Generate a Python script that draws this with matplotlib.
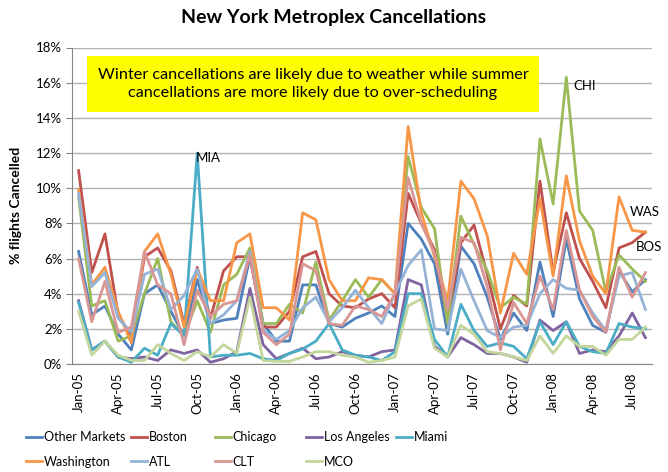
import numpy as np
import matplotlib
matplotlib.use("Agg")
import matplotlib.pyplot as plt
from matplotlib.patches import Rectangle
from matplotlib.ticker import FuncFormatter

plt.rcParams['font.family'] = ['Lato', 'DejaVu Sans']

# --- data (% of flights cancelled, Jan-05 .. Aug-08) ---
months = ['Jan-05', 'Feb-05', 'Mar-05', 'Apr-05', 'May-05', 'Jun-05', 'Jul-05', 'Aug-05', 'Sep-05', 'Oct-05', 'Nov-05', 'Dec-05',
          'Jan-06', 'Feb-06', 'Mar-06', 'Apr-06', 'May-06', 'Jun-06', 'Jul-06', 'Aug-06', 'Sep-06', 'Oct-06', 'Nov-06', 'Dec-06',
          'Jan-07', 'Feb-07', 'Mar-07', 'Apr-07', 'May-07', 'Jun-07', 'Jul-07', 'Aug-07', 'Sep-07', 'Oct-07', 'Nov-07', 'Dec-07',
          'Jan-08', 'Feb-08', 'Mar-08', 'Apr-08', 'May-08', 'Jun-08', 'Jul-08', 'Aug-08']

other_markets = [6.4, 2.8, 3.3, 1.7, 0.8, 4.0, 4.5, 3.0, 1.6, 4.8, 2.3, 2.5,
                 2.6, 6.1, 2.3, 1.3, 1.3, 4.5, 4.5, 2.3, 2.1, 2.6, 2.9, 3.3,
                 2.7, 8.0, 7.1, 5.7, 1.7, 6.7, 5.7, 3.8, 1.4, 2.9, 1.9, 5.8,
                 2.7, 7.1, 3.7, 2.2, 1.8, 5.3, 4.1, 4.8]
boston = [11.0, 5.2, 7.4, 2.8, 1.6, 6.1, 6.6, 5.3, 2.3, 5.5, 2.6, 5.3,
          6.1, 6.1, 2.1, 2.1, 3.0, 6.1, 6.4, 4.0, 3.3, 3.2, 3.7, 4.0,
          3.2, 9.7, 8.0, 6.5, 2.5, 6.9, 7.9, 5.1, 2.0, 3.9, 3.3, 10.4,
          5.2, 8.6, 6.0, 4.7, 3.2, 6.6, 6.9, 7.5]
chicago = [9.5, 3.3, 3.6, 1.3, 1.6, 4.0, 6.0, 2.4, 1.6, 3.6, 1.8, 4.5,
           5.1, 6.6, 2.3, 2.3, 3.4, 2.9, 5.8, 2.5, 3.6, 4.8, 3.8, 4.8,
           4.0, 11.8, 8.9, 7.7, 2.3, 8.4, 6.8, 5.3, 3.2, 3.8, 3.4, 12.8,
           9.1, 16.3, 8.7, 7.6, 4.1, 6.2, 5.4, 4.7]
los_angeles = [3.6, 0.8, 1.3, 0.4, 0.3, 0.4, 0.2, 0.8, 0.6, 0.8, 0.1, 0.3,
               0.7, 4.3, 1.1, 0.3, 0.6, 0.9, 0.3, 0.4, 0.7, 0.5, 0.4, 0.7,
               0.8, 4.8, 4.5, 1.0, 0.4, 1.5, 1.1, 0.6, 0.6, 0.4, 0.1, 2.5,
               1.9, 2.4, 0.6, 0.8, 0.7, 1.6, 2.9, 1.5]
miami = [3.5, 0.8, 1.3, 0.4, 0.1, 0.9, 0.5, 2.3, 1.6, 12.0, 0.4, 0.5,
         0.5, 0.6, 0.3, 0.2, 0.6, 0.85, 1.3, 2.3, 0.8, 0.5, 0.4, 0.2,
         0.7, 4.0, 4.0, 1.4, 0.4, 3.4, 1.9, 1.0, 1.2, 1.0, 0.3, 2.4,
         1.1, 2.4, 1.0, 0.7, 0.6, 2.3, 2.1, 2.0]
washington = [9.9, 4.5, 5.5, 3.0, 1.2, 6.4, 7.4, 5.1, 2.1, 5.4, 3.6, 3.6,
              6.9, 7.4, 3.2, 3.2, 2.5, 8.6, 8.2, 4.8, 3.6, 3.6, 4.9, 4.8,
              4.0, 13.5, 8.6, 6.1, 3.6, 10.4, 9.4, 7.3, 2.9, 6.3, 5.1, 9.4,
              5.0, 10.7, 7.0, 5.0, 4.0, 9.5, 7.6, 7.5]
atl = [9.7, 4.4, 5.2, 2.6, 1.8, 5.1, 5.4, 3.1, 3.9, 5.4, 2.3, 2.8,
       3.6, 6.4, 1.9, 1.4, 1.9, 3.2, 3.8, 2.4, 3.2, 4.2, 3.2, 2.3,
       4.0, 5.6, 6.5, 2.0, 1.9, 5.4, 3.6, 1.9, 1.5, 2.1, 2.2, 4.0,
       4.8, 4.3, 4.2, 2.9, 1.9, 5.0, 5.2, 3.1]
clt = [6.0, 2.4, 4.7, 1.8, 2.1, 6.4, 4.5, 4.0, 1.1, 4.2, 2.7, 3.4,
       3.6, 6.2, 1.8, 1.1, 1.7, 5.7, 5.3, 2.3, 2.2, 3.3, 3.1, 2.7,
       4.0, 10.6, 8.0, 6.3, 3.1, 7.2, 6.9, 4.4, 0.8, 3.5, 2.3, 5.0,
       3.1, 7.6, 4.2, 2.7, 1.8, 5.5, 3.8, 5.2]
mco = [3.0, 0.5, 1.3, 0.5, 0.2, 0.2, 1.1, 0.6, 0.2, 0.7, 0.4, 1.1,
       0.6, 3.8, 0.2, 0.15, 0.15, 0.4, 0.7, 0.7, 0.5, 0.4, 0.1, 0.2,
       0.4, 3.3, 3.7, 0.9, 0.4, 2.2, 1.7, 0.7, 0.6, 0.4, 0.2, 1.6,
       0.6, 1.6, 1.0, 1.0, 0.5, 1.4, 1.4, 2.1]

series = [
    ('Other Markets', other_markets, '#4F81BD'),
    ('Boston', boston, '#C0504D'),
    ('Chicago', chicago, '#9BBB59'),
    ('Los Angeles', los_angeles, '#8064A2'),
    ('Miami', miami, '#4BACC6'),
    ('Washington', washington, '#F79646'),
    ('ATL', atl, '#95B3D7'),
    ('CLT', clt, '#D99694'),
    ('MCO', mco, '#C3D69B'),
]

fig = plt.figure(figsize=(6.68, 4.72), dpi=100)
ax = fig.add_axes([72 / 668, 1 - 364 / 472, 580 / 668, 316.5 / 472])

x = np.arange(len(months))
lines = {}
for name, vals, col in series:
    lines[name], = ax.plot(x, vals, color=col, linewidth=2.0, label=name)

ax.set_xlim(-0.5, len(months) - 0.5)
ax.set_ylim(0, 18)
ax.set_yticks(np.arange(0, 19, 2))
ax.yaxis.set_major_formatter(FuncFormatter(lambda v, p: f'{v:.0f}%'))
ax.set_xticks(x[::3])
ax.set_xticklabels(months[::3], rotation=90)
ax.tick_params(axis='x', length=0, pad=6, labelsize=9.5)
ax.tick_params(axis='y', length=4, color='#868686', labelsize=9.5, pad=3)
ax.grid(axis='y', color='#B3B3B3', linewidth=1)
ax.set_axisbelow(True)
for s in ['top', 'right']:
    ax.spines[s].set_visible(False)
for s in ['left', 'bottom']:
    ax.spines[s].set_color('#868686')
ax.set_ylabel('% flights Cancelled', fontsize=10, fontweight='bold', labelpad=10)

# callout box
ax.add_patch(Rectangle((0.026, 0.796), 0.779, 0.177, transform=ax.transAxes,
                       facecolor='#FFFF00', edgecolor='none', zorder=5))
ax.text(0.4155, 0.885, 'Winter cancellations are likely due to weather while summer\n'
        'cancellations are more likely due to over-scheduling',
        transform=ax.transAxes, ha='center', va='center', fontsize=11.7,
        linespacing=1.35, zorder=6)

# series labels
ax.text(8.9, 11.7, 'MIA', fontsize=9.5, va='center', ha='left')
ax.text(37.5, 15.8, 'CHI', fontsize=9.5, va='center', ha='left')
ax.text(41.8, 8.65, 'WAS', fontsize=9.5, va='center', ha='left')
ax.text(42.3, 6.66, 'BOS', fontsize=9.5, va='center', ha='left')

fig.text(0.5, 1 - 18 / 472, 'New York Metroplex Cancellations', ha='center', va='center',
         fontsize=14, fontweight='bold')

# legend: 5 columns, filled row by row like the original
cols = [['Other Markets', 'Washington'], ['Boston', 'ATL'], ['Chicago', 'CLT'],
        ['Los Angeles', 'MCO'], ['Miami']]
col_x = [26, 131, 215, 306, 396]
for names, px in zip(cols, col_x):
    fig.legend([lines[n] for n in names], names, loc='upper left',
               bbox_to_anchor=(px / 668, 1 - 431 / 472), frameon=False,
               fontsize=9, handlelength=1.3, handletextpad=0.1,
               borderpad=0, borderaxespad=0, labelspacing=1.0)

fig.savefig('out.png', dpi=100)
